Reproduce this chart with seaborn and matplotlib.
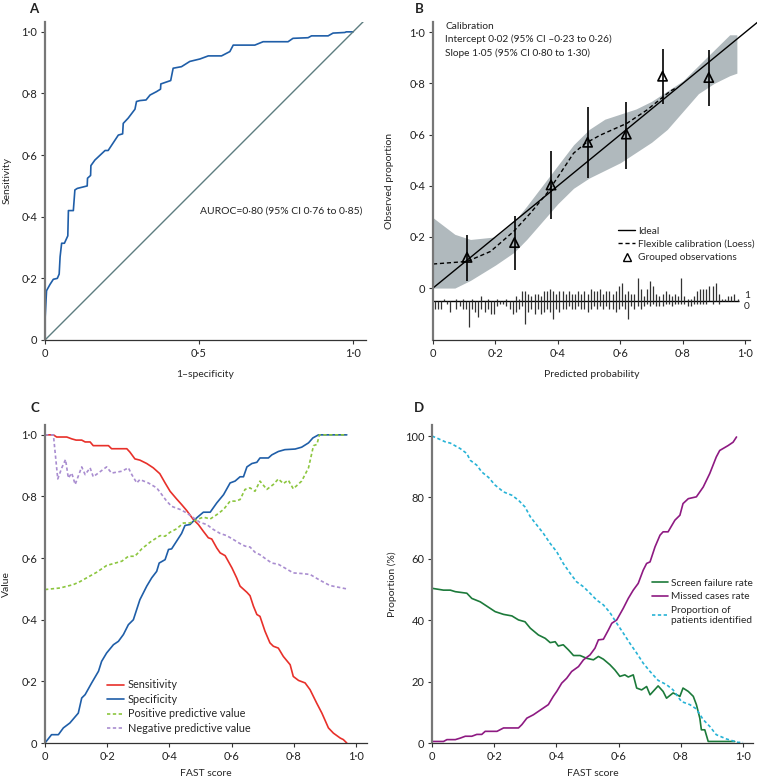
import matplotlib
matplotlib.use("Agg")
import matplotlib.pyplot as plt
from matplotlib.lines import Line2D
from matplotlib.ticker import FuncFormatter
import seaborn as sns
import numpy as np

# ---------------------------------------------------------------------------
# Data
# ---------------------------------------------------------------------------
# A: ROC curve
roc_fpr = [0, 0, 0.005, 0.016, 0.027, 0.04, 0.046, 0.049, 0.054, 0.063, 0.074, 0.076,
           0.092, 0.097, 0.105, 0.137, 0.138, 0.148, 0.149, 0.162, 0.195, 0.205, 0.238,
           0.252, 0.254, 0.27, 0.292, 0.297, 0.308, 0.328, 0.341, 0.362, 0.375, 0.376,
           0.408, 0.416, 0.443, 0.47, 0.503, 0.53, 0.573, 0.60, 0.611, 0.681, 0.708,
           0.789, 0.805, 0.854, 0.865, 0.919, 0.935, 0.973, 0.978, 1.0]
roc_tpr = [0, 0.13, 0.16, 0.18, 0.197, 0.20, 0.214, 0.27, 0.314, 0.314, 0.338, 0.42,
           0.42, 0.487, 0.492, 0.50, 0.525, 0.534, 0.566, 0.584, 0.615, 0.615, 0.665,
           0.669, 0.703, 0.72, 0.749, 0.774, 0.777, 0.779, 0.795, 0.806, 0.814, 0.831,
           0.842, 0.882, 0.887, 0.904, 0.912, 0.922, 0.922, 0.936, 0.957, 0.957, 0.968,
           0.968, 0.979, 0.981, 0.987, 0.987, 0.996, 0.998, 1.0, 1.0]

# B: calibration
grp_pred = [0.109, 0.261, 0.378, 0.495, 0.619, 0.735, 0.883]
grp_obs = [0.12, 0.178, 0.403, 0.57, 0.602, 0.828, 0.823]
grp_lo = [0.026, 0.069, 0.269, 0.429, 0.464, 0.718, 0.711]
grp_hi = [0.208, 0.28, 0.536, 0.709, 0.728, 0.935, 0.93]

loess_x = [0, 0.109, 0.184, 0.258, 0.312, 0.365, 0.408, 0.45, 0.488, 0.536, 0.621,
           0.685, 0.76, 0.775]
loess_y = [0.094, 0.104, 0.143, 0.221, 0.293, 0.371, 0.449, 0.527, 0.566, 0.598,
           0.644, 0.696, 0.77, 0.78]

band_x = [0, 0.07, 0.12, 0.2, 0.26, 0.3, 0.35, 0.4, 0.45, 0.5, 0.55, 0.6, 0.65, 0.7,
          0.75, 0.8, 0.85, 0.9, 0.95, 0.973]
band_lo = [0, 0, 0.03, 0.09, 0.14, 0.19, 0.26, 0.33, 0.39, 0.43, 0.46, 0.49, 0.53,
           0.57, 0.62, 0.69, 0.76, 0.80, 0.83, 0.84]
band_hi = [0.275, 0.21, 0.19, 0.2, 0.26, 0.32, 0.4, 0.48, 0.56, 0.62, 0.66, 0.68, 0.70,
           0.73, 0.77, 0.81, 0.87, 0.93, 0.99, 0.99]

# rug of predicted probabilities (counts per 0.01 bin, events up / non-events down)
rug_bins = np.round(np.arange(0.005, 0.98, 0.01), 3)
rug_ones = [0, 0, 0, 1, 0, 0, 0, 1, 0, 1,
            0, 0, 1, 0, 0, 2, 0, 1, 0, 0,
            1, 0, 0, 1, 0, 0, 2, 1, 4, 4,
            3, 2, 3, 3, 2, 4, 4, 5, 4, 3,
            4, 4, 3, 4, 3, 3, 4, 3, 4, 3,
            5, 4, 4, 5, 3, 4, 4, 3, 4, 6,
            7, 3, 4, 3, 3, 9, 5, 2, 5, 8,
            6, 3, 2, 3, 4, 3, 2, 3, 2, 9,
            2, 1, 1, 2, 4, 5, 5, 5, 6, 6,
            7, 3, 1, 1, 2, 2, 3, 1]
rug_zeros = [3, 3, 3, 0, 1, 4, 0, 3, 2, 3,
             3, 10, 3, 4, 6, 3, 4, 3, 5, 5,
             2, 1, 1, 2, 3, 5, 4, 3, 2, 9,
             4, 3, 5, 3, 5, 4, 3, 4, 7, 3,
             4, 3, 3, 2, 3, 3, 2, 3, 3, 4,
             3, 2, 3, 2, 3, 2, 3, 3, 4, 3,
             2, 3, 7, 2, 3, 2, 3, 2, 1, 2,
             1, 2, 2, 2, 1, 1, 2, 1, 1, 1,
             1, 2, 2, 1, 1, 1, 1, 1, 0, 1,
             0, 1, 0, 0, 0, 0, 0, 0]

# C: diagnostic metrics vs FAST score
sens_x = [0, 0.027, 0.0375, 0.07, 0.086, 0.10, 0.118, 0.129, 0.145, 0.155, 0.204, 0.214,
          0.263, 0.273, 0.289, 0.305, 0.327, 0.348, 0.369, 0.386, 0.402, 0.423, 0.439,
          0.455, 0.477, 0.493, 0.509, 0.525, 0.536, 0.552, 0.563, 0.579, 0.601, 0.616,
          0.627, 0.649, 0.659, 0.67, 0.681, 0.691, 0.707, 0.723, 0.734, 0.75, 0.766,
          0.788, 0.798, 0.815, 0.836, 0.852, 0.873, 0.89, 0.911, 0.927, 0.949, 0.959, 0.97]
sens_y = [1.0, 1.0, 0.993, 0.993, 0.987, 0.983, 0.983, 0.977, 0.977, 0.965, 0.965, 0.955,
          0.955, 0.944, 0.922, 0.918, 0.907, 0.893, 0.874, 0.844, 0.817, 0.792, 0.774,
          0.755, 0.725, 0.709, 0.687, 0.666, 0.662, 0.633, 0.617, 0.608, 0.568, 0.536,
          0.509, 0.489, 0.478, 0.444, 0.417, 0.411, 0.363, 0.325, 0.314, 0.308, 0.281,
          0.254, 0.216, 0.203, 0.195, 0.173, 0.13, 0.097, 0.049, 0.032, 0.016, 0.011, 0.0]

spec_x = [0, 0.021, 0.043, 0.059, 0.08, 0.107, 0.118, 0.129, 0.15, 0.172, 0.182, 0.198,
          0.22, 0.236, 0.252, 0.268, 0.284, 0.305, 0.327, 0.343, 0.359, 0.367, 0.386,
          0.397, 0.407, 0.423, 0.439, 0.45, 0.466, 0.488, 0.509, 0.531, 0.552, 0.574,
          0.595, 0.611, 0.627, 0.638, 0.649, 0.665, 0.681, 0.691, 0.718, 0.729, 0.75,
          0.771, 0.804, 0.825, 0.847, 0.861, 0.879, 0.97]
spec_y = [0, 0.027, 0.027, 0.049, 0.065, 0.097, 0.146, 0.157, 0.195, 0.233, 0.265, 0.292,
          0.319, 0.33, 0.352, 0.384, 0.40, 0.465, 0.509, 0.536, 0.557, 0.584, 0.595,
          0.628, 0.63, 0.655, 0.68, 0.706, 0.709, 0.731, 0.749, 0.749, 0.779, 0.806,
          0.844, 0.85, 0.864, 0.864, 0.896, 0.907, 0.911, 0.925, 0.925, 0.935, 0.946,
          0.952, 0.954, 0.96, 0.974, 0.99, 1.0, 1.0]

ppv_x = [0, 0.048, 0.091, 0.113, 0.134, 0.166, 0.198, 0.247, 0.268, 0.289, 0.311, 0.338,
         0.37, 0.386, 0.402, 0.423, 0.445, 0.466, 0.488, 0.509, 0.531, 0.552, 0.574,
         0.595, 0.611, 0.627, 0.643, 0.659, 0.675, 0.691, 0.713, 0.734, 0.75, 0.766,
         0.782, 0.798, 0.825, 0.847, 0.863, 0.874, 0.882, 0.97]
ppv_y = [0.498, 0.503, 0.514, 0.524, 0.536, 0.554, 0.576, 0.59, 0.606, 0.606, 0.63, 0.652,
         0.673, 0.671, 0.684, 0.695, 0.714, 0.714, 0.725, 0.733, 0.727, 0.741, 0.758,
         0.785, 0.785, 0.79, 0.823, 0.828, 0.817, 0.85, 0.823, 0.839, 0.857, 0.842,
         0.853, 0.825, 0.85, 0.893, 0.965, 0.969, 1.0, 1.0]

npv_x = [0, 0.027, 0.041, 0.054, 0.066, 0.075, 0.086, 0.097, 0.118, 0.129, 0.145, 0.155,
         0.198, 0.214, 0.247, 0.268, 0.279, 0.295, 0.305, 0.332, 0.359, 0.38, 0.391,
         0.407, 0.434, 0.455, 0.477, 0.498, 0.52, 0.541, 0.563, 0.584, 0.606, 0.627,
         0.643, 0.659, 0.675, 0.691, 0.713, 0.729, 0.75, 0.771, 0.798, 0.825, 0.852,
         0.884, 0.916, 0.97]
npv_y = [1.0, 1.0, 0.857, 0.893, 0.92, 0.86, 0.876, 0.839, 0.896, 0.871, 0.893, 0.864,
         0.896, 0.876, 0.882, 0.893, 0.871, 0.844, 0.855, 0.844, 0.828, 0.80, 0.785,
         0.768, 0.758, 0.747, 0.731, 0.716, 0.709, 0.693, 0.68, 0.673, 0.66, 0.647,
         0.639, 0.636, 0.619, 0.611, 0.595, 0.584, 0.58, 0.568, 0.552, 0.55, 0.547,
         0.528, 0.511, 0.50]

# D: screening rates vs FAST score (%)
ident_x = [0, 0.021, 0.043, 0.059, 0.091, 0.112, 0.123, 0.144, 0.16, 0.182, 0.203, 0.23,
           0.257, 0.278, 0.299, 0.316, 0.337, 0.358, 0.38, 0.401, 0.422, 0.444, 0.465,
           0.487, 0.508, 0.529, 0.551, 0.572, 0.594, 0.615, 0.636, 0.658, 0.679, 0.701,
           0.727, 0.754, 0.775, 0.802, 0.829, 0.85, 0.872, 0.893, 0.914, 0.947, 0.984, 1.0]
ident_y = [100, 99.1, 98.1, 97.7, 95.9, 94.3, 92.1, 90.5, 88.3, 86.5, 84.0, 81.8, 80.7,
           79.1, 76.9, 73.7, 71.0, 68.3, 65.0, 62.3, 58.5, 55.3, 52.5, 50.9, 48.8, 46.6,
           45.0, 42.5, 39.0, 35.8, 32.5, 29.3, 26.0, 23.3, 20.4, 19.0, 17.3, 13.5, 12.5,
           11.1, 7.6, 5.4, 2.7, 1.3, 0.2, 0.2]

missed_x = [0, 0.037, 0.048, 0.075, 0.091, 0.107, 0.128, 0.144, 0.16, 0.171, 0.209, 0.23,
            0.278, 0.289, 0.305, 0.326, 0.358, 0.374, 0.39, 0.401, 0.417, 0.433, 0.449,
            0.471, 0.487, 0.508, 0.524, 0.535, 0.551, 0.567, 0.578, 0.594, 0.615, 0.631,
            0.647, 0.663, 0.679, 0.69, 0.701, 0.717, 0.733, 0.743, 0.759, 0.781, 0.797,
            0.807, 0.824, 0.85, 0.872, 0.893, 0.914, 0.925, 0.952, 0.968, 0.979]
missed_y = [0.5, 0.5, 1.1, 1.1, 1.6, 2.2, 2.2, 2.8, 2.8, 3.8, 3.8, 4.9, 4.9, 6.0, 8.1,
            9.2, 11.4, 12.5, 15.2, 16.8, 19.5, 21.1, 23.3, 24.9, 27.1, 28.7, 30.9, 33.6,
            33.8, 36.8, 39.0, 40.1, 43.9, 47.1, 49.8, 52.0, 56.3, 58.5, 59.0, 63.9, 67.7,
            68.8, 68.8, 72.6, 74.2, 78.0, 79.6, 80.2, 83.4, 87.8, 93.2, 95.3, 96.9, 98.0,
            99.7]

fail_x = [0, 0.037, 0.059, 0.075, 0.112, 0.128, 0.155, 0.176, 0.203, 0.23, 0.257, 0.278,
          0.299, 0.316, 0.342, 0.364, 0.38, 0.396, 0.406, 0.422, 0.439, 0.455, 0.476,
          0.497, 0.519, 0.535, 0.551, 0.572, 0.588, 0.604, 0.62, 0.631, 0.647, 0.658,
          0.674, 0.69, 0.701, 0.727, 0.743, 0.754, 0.775, 0.797, 0.807, 0.824, 0.84,
          0.85, 0.861, 0.866, 0.877, 0.888, 0.973]
fail_y = [50.4, 49.8, 49.8, 49.3, 48.8, 47.1, 46.0, 44.6, 42.8, 41.9, 41.4, 40.1, 39.5,
          37.4, 35.2, 34.1, 32.7, 33.0, 31.6, 32.0, 30.3, 28.5, 28.5, 27.6, 27.1, 28.2,
          27.3, 25.5, 23.8, 21.7, 22.2, 21.5, 22.2, 17.9, 17.3, 18.4, 15.7, 18.6, 16.8,
          14.6, 16.3, 15.2, 17.9, 16.8, 15.2, 12.5, 8.1, 4.3, 4.3, 0.5, 0.5]

# ---------------------------------------------------------------------------
sns.set_theme(style="ticks")
plt.rcParams["font.family"] = ["Lato", "DejaVu Sans"]
plt.rcParams["font.size"] = 7.3
plt.rcParams["xtick.labelsize"] = 8
plt.rcParams["ytick.labelsize"] = 8
plt.rcParams["axes.labelsize"] = 7.5
plt.rcParams["legend.fontsize"] = 7.3
plt.rcParams["axes.linewidth"] = 0.9
plt.rcParams["xtick.major.size"] = 3
plt.rcParams["ytick.major.size"] = 3
plt.rcParams["xtick.major.width"] = 0.8
plt.rcParams["ytick.major.width"] = 0.8
plt.rcParams["xtick.major.pad"] = 2.5
plt.rcParams["ytick.major.pad"] = 2.5

W, H = 757, 780
fig = plt.figure(figsize=(W / 100, H / 100), dpi=100)


def box(l, t, r, b):
    return [l / W, 1 - b / H, (r - l) / W, (b - t) / H]


def dot_fmt(v, pos):
    if abs(v) < 1e-9:
        return "0"
    return f"{v:.1f}".replace(".", "\u00b7")


def style_axes(ax, letter, lx, ly, xl_y, yl_x):
    sns.despine(ax=ax)
    ax.spines["left"].set_color("#777777")
    ax.spines["left"].set_linewidth(1.6)
    ax.spines["bottom"].set_color("#333333")
    ax.tick_params(colors="#333333", labelcolor="#222222")
    ax.xaxis.set_label_coords(0.5, xl_y)
    ax.yaxis.set_label_coords(yl_x, 0.5)
    fig.text(lx / W, 1 - ly / H, letter, fontsize=9.5, fontweight="bold",
             ha="center", va="center", color="#222222")


LEG_KW = dict(loc="upper left", frameon=False, handlelength=1.6, handletextpad=0.3,
              labelspacing=0.42, borderpad=0, borderaxespad=0)

BLUE = "#1f5ea8"
RED = "#e8302a"
LGREEN = "#8cc63f"
LPURPLE = "#a98dd0"
DGREEN = "#1c7a3a"
MAGENTA = "#8e1a82"
CYAN = "#27b3d6"

# ---------------- A ----------------
axA = fig.add_axes(box(45, 22, 366, 340))
sns.lineplot(x=roc_fpr, y=roc_tpr, sort=False, color=BLUE, lw=1.2, ax=axA)
axA.plot([0, 1.042], [0, 1.042], color="#5d7d80", lw=1.0)
axA.set_xlim(0, 1.042)
axA.set_ylim(0, 1.032)
axA.set_xticks([0, 0.5, 1.0])
axA.set_yticks([0, 0.2, 0.4, 0.6, 0.8, 1.0])
axA.xaxis.set_major_formatter(FuncFormatter(dot_fmt))
axA.yaxis.set_major_formatter(FuncFormatter(dot_fmt))
axA.set_xlabel("1\u2013specificity", va="center")
axA.set_ylabel("Sensitivity", va="center")
axA.text(0.503, 0.417, "AUROC=0\u00b780 (95% CI 0\u00b776 to 0\u00b785)", va="center",
         ha="left", color="#222222", fontsize=7.5)
style_axes(axA, "A", 34, 9, -0.11, -0.118)

# ---------------- B ----------------
axB = fig.add_axes(box(433, 22, 750, 340))
axB.fill_between(band_x, band_lo, band_hi, color="#b0b9bd", lw=0)
axB.plot([0, 1.06], [0, 1.06], color="black", lw=1.0, clip_on=False)
sns.lineplot(x=loess_x, y=loess_y, color="black", lw=1.0, ax=axB)
axB.lines[-1].set_dashes((3, 2))
axB.vlines(grp_pred, grp_lo, grp_hi, color="black", lw=1.2)
sns.scatterplot(x=grp_pred, y=grp_obs, marker="^", s=45, facecolor="none",
                edgecolor="black", linewidth=1.2, ax=axB)
base = -0.052
axB.hlines(base, 0, 0.98, color="black", lw=1.0)
axB.vlines(rug_bins, base, base + np.array(rug_ones) * 0.01, color="#333333", lw=0.9)
axB.vlines(rug_bins, base, base - np.array(rug_zeros) * 0.01, color="#333333", lw=0.9)
axB.text(0.995, base + 0.004, "1", ha="left", va="bottom", color="#222222")
axB.text(0.995, base - 0.004, "0", ha="left", va="top", color="#222222")
axB.set_xlim(0, 1.015)
axB.set_ylim(-0.203, 1.04)
axB.set_xticks([0, 0.2, 0.4, 0.6, 0.8, 1.0])
axB.set_yticks([0, 0.2, 0.4, 0.6, 0.8, 1.0])
axB.xaxis.set_major_formatter(FuncFormatter(dot_fmt))
axB.yaxis.set_major_formatter(FuncFormatter(dot_fmt))
axB.set_xlabel("Predicted probability", va="center")
axB.set_ylabel("Observed proportion", va="center")
axB.text(0.04, 1.04, "Calibration\nIntercept 0\u00b702 (95% CI \u20130\u00b723 to 0\u00b726)\n"
         "Slope 1\u00b705 (95% CI 0\u00b780 to 1\u00b730)", va="top", ha="left",
         linespacing=1.5, color="#222222")
handlesB = [Line2D([], [], color="black", lw=1.0),
            Line2D([], [], color="black", lw=1.0, dashes=(3, 2)),
            Line2D([], [], color="black", marker="^", ls="none", mfc="none", ms=6)]
axB.legend(handlesB, ["Ideal", "Flexible calibration (Loess)", "Grouped observations"],
           bbox_to_anchor=(0.585, 0.357), **LEG_KW)
style_axes(axB, "B", 419, 9, -0.11, -0.136)

# ---------------- C ----------------
axC = fig.add_axes(box(45, 425, 367, 743))
sns.lineplot(x=sens_x, y=sens_y, sort=False, color=RED, lw=1.2, ax=axC, label="Sensitivity")
sns.lineplot(x=spec_x, y=spec_y, sort=False, color=BLUE, lw=1.2, ax=axC, label="Specificity")
sns.lineplot(x=ppv_x, y=ppv_y, sort=False, color=LGREEN, lw=1.2, ax=axC,
             label="Positive predictive value")
sns.lineplot(x=npv_x, y=npv_y, sort=False, color=LPURPLE, lw=1.2, ax=axC,
             label="Negative predictive value")
axC.lines[2].set_dashes((2, 1.5))
axC.lines[3].set_dashes((2, 1.5))
axC.set_xlim(0, 1.035)
axC.set_ylim(0, 1.032)
axC.set_xticks([0, 0.2, 0.4, 0.6, 0.8, 1.0])
axC.set_yticks([0, 0.2, 0.4, 0.6, 0.8, 1.0])
axC.xaxis.set_major_formatter(FuncFormatter(dot_fmt))
axC.yaxis.set_major_formatter(FuncFormatter(dot_fmt))
axC.set_xlabel("FAST score", va="center")
axC.set_ylabel("Value", va="center")
legC = axC.legend(bbox_to_anchor=(0.193, 0.2), fontsize=7.8,
                  **{k: v for k, v in LEG_KW.items() if k != "labelspacing"},
                  labelspacing=0.32)
for h in legC.legend_handles[2:]:
    h.set_dashes((2, 1.5))
style_axes(axC, "C", 35, 408, -0.095, -0.121)

# ---------------- D ----------------
axD = fig.add_axes(box(432, 425, 753, 743))
sns.lineplot(x=fail_x, y=fail_y, sort=False, color=DGREEN, lw=1.2, ax=axD,
             label="Screen failure rate")
sns.lineplot(x=missed_x, y=missed_y, sort=False, color=MAGENTA, lw=1.2, ax=axD,
             label="Missed cases rate")
sns.lineplot(x=ident_x, y=ident_y, sort=False, color=CYAN, lw=1.2, ax=axD,
             label="Proportion of\npatients identified")
axD.lines[2].set_dashes((2, 1.5))
axD.set_xlim(0, 1.032)
axD.set_ylim(0, 103.6)
axD.set_xticks([0, 0.2, 0.4, 0.6, 0.8, 1.0])
axD.set_yticks([0, 20, 40, 60, 80, 100])
axD.xaxis.set_major_formatter(FuncFormatter(dot_fmt))
axD.set_xlabel("FAST score", va="center")
axD.set_ylabel("Proportion (%)", va="center")
legD = axD.legend(bbox_to_anchor=(0.685, 0.516), **LEG_KW)
legD.legend_handles[2].set_dashes((2, 1.5))
style_axes(axD, "D", 419, 408, -0.095, -0.125)

fig.savefig("out.png", dpi=100)
